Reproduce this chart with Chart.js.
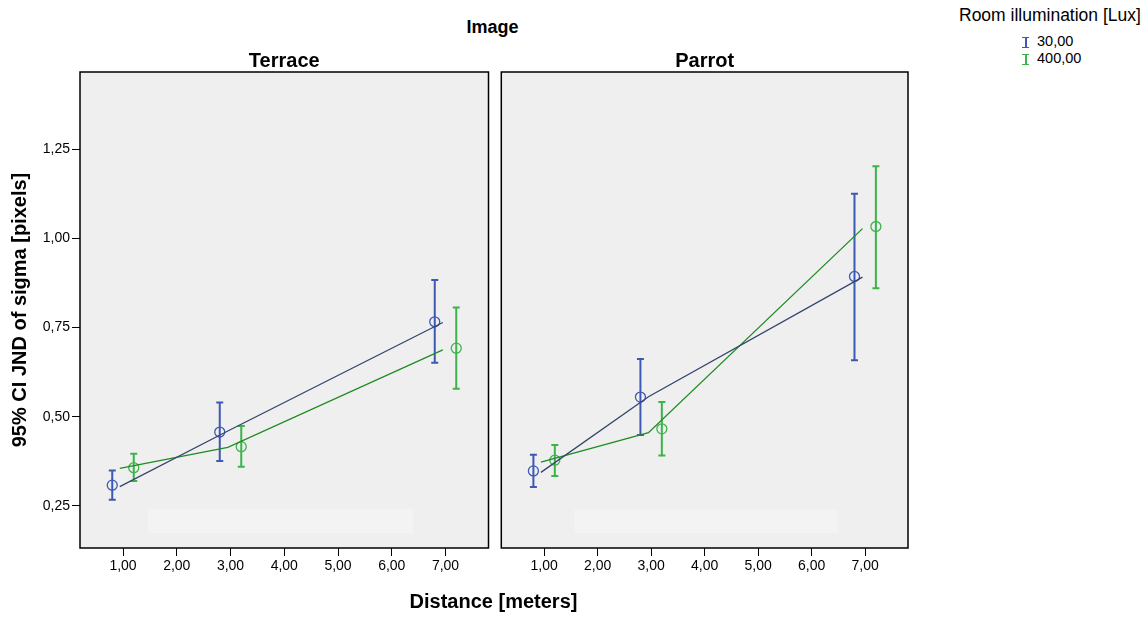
<!DOCTYPE html>
<html>
<head>
<meta charset="utf-8">
<script src="https://cdn.jsdelivr.net/npm/chart.js@4/dist/chart.umd.min.js"></script>
<style>
  body { margin: 0; background: #fff; font-family: "Liberation Sans", Arial, sans-serif; }
  #page { position: relative; width: 1147px; height: 618px; overflow: hidden; }
  .box { position: absolute; top: 0; }
  .txt { position: absolute; color: #000; white-space: nowrap; }
  .bold { font-weight: bold; }
  .legend-item { position: absolute; left: 1022px; font-size: 14.5px; height: 17px; width: 100px; }
  .ibeam { position: absolute; left: 0; top: 3.5px; width: 7px; height: 11px; }
  .ibeam::before { content: ''; position: absolute; left: 2.5px; top: 0; width: 2px; height: 11px; background: currentColor; }
  .ibeam::after { content: ''; position: absolute; left: 0; top: 0; width: 7px; height: 11px;
                  border-top: 1.5px solid currentColor; border-bottom: 1.5px solid currentColor; box-sizing: border-box; }
  .legend-item span.lbl { position: absolute; left: 15px; top: 0; }
</style>
</head>
<body>
<div id="page">
  <div class="txt bold" style="left:0;width:985px;text-align:center;top:17px;font-size:18px;">Image</div>

  <div class="box" style="left:0;width:495px;height:618px;"><canvas id="terraceChart" width="495" height="618"></canvas></div>
  <div class="box" style="left:495px;width:420px;height:618px;"><canvas id="parrotChart" width="420" height="618"></canvas></div>

  <div class="txt bold" style="left:0;width:987px;text-align:center;top:590px;font-size:20px;">Distance [meters]</div>

  <div class="txt" style="left:959px;top:5px;font-size:17.5px;">Room illumination [Lux]</div>
  <div class="legend-item" style="top:33px;"><i class="ibeam" style="color:#3c5ab4"></i><span class="lbl">30,00</span></div>
  <div class="legend-item" style="top:50px;"><i class="ibeam" style="color:#3cb44b"></i><span class="lbl">400,00</span></div>
</div>

<script>
// x positions (distance in meters, dodged per illumination group)
const lux30X = [0.8, 2.8, 6.8];
const lux400X = [1.2, 3.2, 7.2];
const fitX = [0.94, 2.95, 6.95];

// Terrace
const terrace30Mean = [0.308, 0.457, 0.766];
const terrace30Lo = [0.267, 0.376, 0.651];
const terrace30Hi = [0.349, 0.540, 0.883];
const terrace400Mean = [0.357, 0.416, 0.692];
const terrace400Lo = [0.320, 0.360, 0.578];
const terrace400Hi = [0.396, 0.474, 0.806];
const terrace30Fit = [0.304, 0.460, 0.764];
const terrace400Fit = [0.355, 0.414, 0.687];

// Parrot
const parrot30Mean = [0.348, 0.555, 0.893];
const parrot30Lo = [0.303, 0.449, 0.658];
const parrot30Hi = [0.393, 0.662, 1.125];
const parrot400Mean = [0.378, 0.466, 1.033];
const parrot400Lo = [0.334, 0.391, 0.860];
const parrot400Hi = [0.421, 0.541, 1.202];
const parrot30Fit = [0.344, 0.556, 0.891];
const parrot400Fit = [0.373, 0.455, 1.027];

// axes
const xTicks = [1, 2, 3, 4, 5, 6, 7];
const yTicks = [0.25, 0.5, 0.75, 1.0, 1.25];

const BLUE = '#3c5ab4';
const BLUE_LINE = '#34466c';
const GREEN = '#3cb44b';
const GREEN_LINE = '#1f8c22';

Chart.defaults.font.family = '"Liberation Sans", Arial, sans-serif';
Chart.defaults.color = '#000';

const fmt = v => v.toFixed(2).replace('.', ',');
const pts = (xs, ys) => xs.map((x, i) => ({ x: x, y: ys[i] }));

// background, faint band and frame of each panel
const panelPlugin = {
    id: 'panel',
    beforeDraw(chart, args, opts) {
        const { ctx, chartArea: a, scales } = chart;
        ctx.save();
        ctx.fillStyle = '#efefef';
        ctx.fillRect(a.left, a.top, a.right - a.left, a.bottom - a.top);
        if (opts.band) {
            const b = opts.band;
            const x1 = scales.x.getPixelForValue(b.x0), x2 = scales.x.getPixelForValue(b.x1);
            const y1 = scales.y.getPixelForValue(b.y1), y2 = scales.y.getPixelForValue(b.y0);
            ctx.fillStyle = '#f3f3f3';
            ctx.fillRect(x1, y1, x2 - x1, y2 - y1);
        }
        ctx.restore();
    },
    afterDraw(chart) {
        const { ctx, chartArea: a } = chart;
        ctx.save();
        ctx.strokeStyle = '#000';
        ctx.lineWidth = 1.5;
        ctx.strokeRect(a.left, a.top, a.right - a.left, a.bottom - a.top);
        ctx.restore();
    }
};

// vertical 95% CI bars with caps
const errorBarPlugin = {
    id: 'errorBars',
    beforeDatasetsDraw(chart) {
        const { ctx, scales } = chart;
        ctx.save();
        chart.data.datasets.forEach(ds => {
            if (!ds.errLo) return;
            ctx.strokeStyle = ds.borderColor;
            ctx.lineWidth = 2;
            ds.data.forEach((p, i) => {
                const x = scales.x.getPixelForValue(p.x);
                const yLo = scales.y.getPixelForValue(ds.errLo[i]);
                const yHi = scales.y.getPixelForValue(ds.errHi[i]);
                ctx.beginPath();
                ctx.moveTo(x, yLo); ctx.lineTo(x, yHi);
                ctx.moveTo(x - 3.5, yLo); ctx.lineTo(x + 3.5, yLo);
                ctx.moveTo(x - 3.5, yHi); ctx.lineTo(x + 3.5, yHi);
                ctx.stroke();
            });
        });
        ctx.restore();
    }
};

function makeDatasets(m30, lo30, hi30, m400, lo400, hi400, f30, f400) {
    const marker = color => ({
        type: 'scatter', showLine: false, pointStyle: 'circle', pointRadius: 5,
        pointBorderWidth: 1.3, borderColor: color, pointBorderColor: color,
        backgroundColor: 'rgba(0,0,0,0)', pointBackgroundColor: 'rgba(0,0,0,0)'
    });
    const fit = color => ({
        type: 'line', borderColor: color, borderWidth: 1.3, pointRadius: 0,
        tension: 0, fill: false
    });
    return [
        { ...fit(BLUE_LINE), label: '30,00 fit', data: pts(fitX, f30) },
        { ...fit(GREEN_LINE), label: '400,00 fit', data: pts(fitX, f400) },
        { ...marker(BLUE), label: '30,00', data: pts(lux30X, m30), errLo: lo30, errHi: hi30 },
        { ...marker(GREEN), label: '400,00', data: pts(lux400X, m400), errLo: lo400, errHi: hi400 }
    ];
}

function makeChart(canvasId, title, datasets, showY, padding, band) {
    const tickGrid = { drawOnChartArea: false, drawTicks: true, tickLength: 8, color: '#000', lineWidth: 1 };
    return new Chart(document.getElementById(canvasId), {
        type: 'scatter',
        data: { datasets: datasets },
        options: {
            responsive: false,
            animation: false,
            layout: { padding: padding },
            plugins: { legend: { display: false }, tooltip: { enabled: false }, panel: { band: band } },
            scales: {
                x: {
                    type: 'linear', position: 'bottom', min: 0.2, max: 7.8,
                    afterFit: s => { s.height = 40; },
                    afterBuildTicks: s => { s.ticks = xTicks.map(v => ({ value: v })); },
                    grid: tickGrid,
                    border: { display: false },
                    ticks: { font: { size: 14 }, padding: 2, maxRotation: 0, autoSkip: false, callback: v => fmt(v) }
                },
                top: {
                    type: 'linear', position: 'top', min: 0.2, max: 7.8,
                    afterFit: s => { s.height = 32; },
                    grid: { display: false }, border: { display: false },
                    ticks: { display: false },
                    title: { display: true, text: title, font: { size: 20, weight: 'bold' }, padding: { top: 9, bottom: 0 } }
                },
                y: {
                    type: 'linear', min: 0.132, max: 1.466, display: showY,
                    afterFit: s => { s.width = showY ? 80 : 0; },
                    afterBuildTicks: s => { s.ticks = yTicks.map(v => ({ value: v })); },
                    grid: tickGrid,
                    border: { display: false },
                    ticks: { font: { size: 14 }, padding: 2, autoSkip: false, callback: v => fmt(v) },
                    title: { display: true, text: '95% CI JND of sigma [pixels]', font: { size: 20, weight: 'bold' }, padding: { top: 8, bottom: 0 } }
                }
            }
        },
        plugins: [panelPlugin, errorBarPlugin]
    });
}

makeChart('terraceChart', 'Terrace',
    makeDatasets(terrace30Mean, terrace30Lo, terrace30Hi, terrace400Mean, terrace400Lo, terrace400Hi, terrace30Fit, terrace400Fit),
    true, { left: 0, right: 6.5, top: 40, bottom: 30 }, { x0: 1.46, x1: 6.40, y0: 0.174, y1: 0.242 });

makeChart('parrotChart', 'Parrot',
    makeDatasets(parrot30Mean, parrot30Lo, parrot30Hi, parrot400Mean, parrot400Lo, parrot400Hi, parrot30Fit, parrot400Fit),
    false, { left: 4.5, right: 7, top: 40, bottom: 30 }, { x0: 1.56, x1: 6.48, y0: 0.174, y1: 0.240 });
</script>
</body>
</html>
